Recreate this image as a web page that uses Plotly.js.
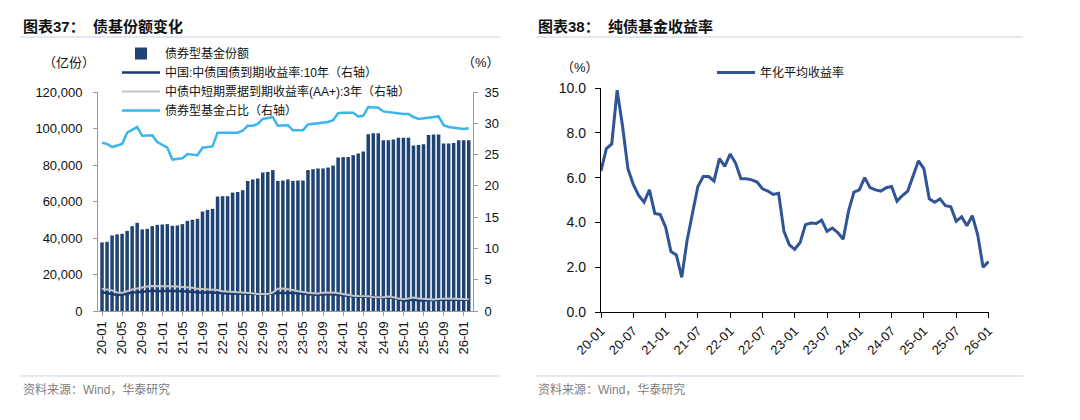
<!DOCTYPE html>
<html><head><meta charset="utf-8">
<script src="https://cdn.plot.ly/plotly-3.0.1.min.js"></script>
<style>html,body{margin:0;padding:0;background:#fff}#chart{width:1080px;height:420px}</style>
</head><body><div id="chart"></div>
<script>
// ---- categories (monthly, yy-mm) ----
const months = [
  "20-01","20-02","20-03","20-04","20-05","20-06","20-07","20-08","20-09","20-10","20-11","20-12",
  "21-01","21-02","21-03","21-04","21-05","21-06","21-07","21-08","21-09","21-10","21-11","21-12",
  "22-01","22-02","22-03","22-04","22-05","22-06","22-07","22-08","22-09","22-10","22-11","22-12",
  "23-01","23-02","23-03","23-04","23-05","23-06","23-07","23-08","23-09","23-10","23-11","23-12",
  "24-01","24-02","24-03","24-04","24-05","24-06","24-07","24-08","24-09","24-10","24-11","24-12",
  "25-01","25-02","25-03","25-04","25-05","25-06","25-07","25-08","25-09","25-10","25-11","25-12",
  "26-01","26-02"
];
// ---- chart 37 series ----
const bondFundShares = [ // 亿份
  37600,37900,41400,42000,42300,43900,46500,48300,44700,45000,
  46500,47200,47400,47600,46700,46900,47600,49400,50000,50500,
  54500,55400,56000,62700,62900,62900,64900,65200,66200,71300,
  72100,72600,75900,76200,77200,71300,71500,72100,71300,71500,
  71500,77200,77700,78100,78100,78600,79700,84100,84300,84400,
  85400,86300,87400,96900,97400,97400,93600,93600,94000,95000,
  95000,95000,90700,90900,91400,96500,96700,96700,91800,91800,
  92000,93600,93600,93600
];
const cgb10y = [ // %
  3.00,2.85,2.70,2.55,2.60,2.80,2.95,3.00,3.10,3.15,3.25,3.20,
  3.15,3.25,3.25,3.20,3.15,3.12,3.05,2.90,2.90,2.98,2.92,2.85,
  2.75,2.80,2.80,2.80,2.78,2.78,2.78,2.70,2.67,2.70,2.80,2.88,
  2.90,2.90,2.87,2.82,2.73,2.68,2.65,2.60,2.68,2.70,2.68,2.60,
  2.50,2.42,2.32,2.28,2.30,2.30,2.25,2.18,2.15,2.13,2.10,1.90,
  1.65,1.70,1.82,1.68,1.68,1.65,1.68,1.75,1.82,1.80,1.80,1.83,
  1.82,1.80
];
const mtnAAplus3y = [ // %
  3.55,3.40,3.30,2.95,2.90,3.15,3.45,3.60,3.80,3.90,4.00,4.00,
  3.95,3.95,3.95,3.90,3.85,3.80,3.70,3.55,3.50,3.55,3.45,3.35,
  3.15,3.10,3.10,3.05,2.95,2.92,2.85,2.72,2.68,2.72,2.95,3.55,
  3.60,3.50,3.35,3.15,3.00,2.90,2.85,2.80,2.92,2.95,2.95,2.85,
  2.70,2.55,2.45,2.40,2.40,2.35,2.25,2.20,2.20,2.30,2.20,1.98,
  1.88,2.00,2.15,1.98,1.92,1.88,1.85,1.90,1.97,1.98,1.95,1.92,
  1.90,1.88
];
const bondFundRatio = [ // %
  26.9,26.7,26.2,26.5,26.7,28.5,29.0,29.4,28.0,28.0,
  28.1,27.0,26.6,26.1,24.2,24.3,24.4,25.1,25.0,24.9,
  26.1,26.2,26.3,28.5,28.5,28.4,28.4,28.5,28.8,29.6,
  29.6,29.9,30.7,30.8,31.0,29.6,29.7,29.7,28.9,28.9,
  28.9,29.8,29.9,29.9,30.1,30.2,30.5,31.6,31.7,31.7,
  31.7,31.1,31.2,32.6,32.6,32.5,31.9,31.8,31.6,31.5,
  31.5,31.5,31.0,30.7,30.8,30.9,31.1,31.1,29.7,29.4,
  29.3,29.2,29.1,29.2
];
// ---- chart 38 series ----
const pureBondYield = [ // %
  6.3,7.3,7.5,9.9,8.3,6.4,5.7,5.2,4.9,5.45,
  4.4,4.35,3.8,2.7,2.55,1.55,3.2,4.4,5.6,6.05,
  6.05,5.85,6.85,6.5,7.05,6.65,5.95,5.95,5.9,5.8,
  5.5,5.4,5.25,5.3,3.6,3.0,2.8,3.1,3.9,3.97,
  3.95,4.1,3.6,3.75,3.55,3.25,4.5,5.35,5.45,6.0,
  5.55,5.45,5.4,5.55,5.6,4.95,5.2,5.4,6.05,6.75,
  6.4,5.05,4.9,5.05,4.75,4.7,4.05,4.25,3.85,4.3,
  3.45,2.0,2.25
];
// ---- tick labels ----
const leftTicks = ["20-01","20-05","20-09","21-01","21-05","21-09","22-01","22-05","22-09","23-01",
  "23-05","23-09","24-01","24-05","24-09","25-01","25-05","25-09","26-01"];
const rightTicks = ["20-01","20-07","21-01","21-07","22-01","22-07","23-01","23-07","24-01","24-07",
  "25-01","25-07","26-01"];
const yieldMonths = months.slice(0, pureBondYield.length);

const FONT = '"Liberation Sans", Arial, "Noto Sans CJK SC", sans-serif';
const W = 1080, H = 420;
const px = x => x / W, py = y => 1 - y / H;

const traces = [
  {type:'bar', name:'债券型基金份额', x:months, y:bondFundShares, xaxis:'x', yaxis:'y',
   marker:{color:'#1f4473', line:{width:0}}, legend:'legend'},
  {type:'scatter', mode:'lines', name:'中国:中债国债到期收益率:10年（右轴）', x:months, y:cgb10y,
   xaxis:'x', yaxis:'y2', line:{color:'#1b3a73', width:2.5}, legend:'legend'},
  {type:'scatter', mode:'lines', name:'中债中短期票据到期收益率(AA+):3年（右轴）', x:months, y:mtnAAplus3y,
   xaxis:'x', yaxis:'y2', line:{color:'#c4c4c4', width:2}, legend:'legend'},
  {type:'scatter', mode:'lines', name:'债券型基金占比（右轴）', x:months, y:bondFundRatio,
   xaxis:'x', yaxis:'y2', line:{color:'#3cb6ea', width:2.5}, legend:'legend'},
  {type:'scatter', mode:'lines', name:'年化平均收益率', x:yieldMonths, y:pureBondYield,
   xaxis:'x3', yaxis:'y3', line:{color:'#2f5597', width:3}, legend:'legend2'}
];

const tickFont = {family:FONT, size:13, color:'#111'};
const layout = {
  width:W, height:H, autosize:false,
  margin:{l:0, r:0, t:0, b:0},
  paper_bgcolor:'#fff', plot_bgcolor:'rgba(0,0,0,0)',
  font:{family:FONT, size:12, color:'#111'},
  bargap:0.3,
  showlegend:true,
  legend:{x:px(117), y:py(39), xanchor:'left', yanchor:'top', bgcolor:'rgba(0,0,0,0)',
    font:{family:FONT, size:12, color:'#111'}, tracegroupgap:0, traceorder:'normal', itemwidth:38},
  legend2:{x:px(712), y:py(58), xanchor:'left', yanchor:'top', bgcolor:'rgba(0,0,0,0)',
    font:{family:FONT, size:12, color:'#111'}, itemwidth:38},
  xaxis:{domain:[px(98), px(473)], anchor:'y', type:'category', range:[-0.8, 73.85],
    tickmode:'array', tickvals:leftTicks, ticktext:leftTicks, tickangle:-90,
    ticks:'outside', ticklen:4, tickcolor:'#999', showline:true, linecolor:'#999', linewidth:1,
    showgrid:false, zeroline:false, tickfont:tickFont},
  yaxis:{domain:[py(311), py(92)], anchor:'x', range:[0,120000], dtick:20000, tickformat:',',
    ticks:'outside', ticklen:4, tickcolor:'#999', showline:true, linecolor:'#999', linewidth:1,
    showgrid:false, zeroline:false, tickfont:tickFont, ticklabelstandoff:8},
  yaxis2:{overlaying:'y', side:'right', anchor:'x', range:[0,35], dtick:5,
    ticks:'outside', ticklen:4, tickcolor:'#999', showline:true, linecolor:'#999', linewidth:1,
    showgrid:false, zeroline:false, tickfont:tickFont, ticklabelstandoff:4},
  xaxis3:{domain:[px(601), px(989)], anchor:'y3', type:'category', range:[0, 72.1],
    tickmode:'array', tickvals:rightTicks, ticktext:rightTicks, tickangle:-45,
    ticks:'outside', ticklen:5, tickcolor:'#000', showline:true, linecolor:'#000', linewidth:1.2,
    showgrid:false, zeroline:false, tickfont:tickFont},
  yaxis3:{domain:[py(312), py(88)], anchor:'x3', range:[0,10], dtick:2, tickformat:'.1f',
    ticks:'outside', ticklen:5, tickcolor:'#000', showline:true, linecolor:'#000', linewidth:1.2,
    showgrid:false, zeroline:false, tickfont:{family:FONT, size:14, color:'#111'}, ticklabelstandoff:6},
  shapes:[
    {type:'line', xref:'paper', yref:'paper', x0:px(20), x1:px(500), y0:py(37), y1:py(37), line:{color:'#c7d0e2', width:1.2}},
    {type:'line', xref:'paper', yref:'paper', x0:px(536), x1:px(1023), y0:py(37), y1:py(37), line:{color:'#c7d0e2', width:1.2}},
    {type:'line', xref:'paper', yref:'paper', x0:px(20), x1:px(500), y0:py(376), y1:py(376), line:{color:'#c7d6e4', width:1}},
    {type:'line', xref:'paper', yref:'paper', x0:px(536), x1:px(1023), y0:py(376), y1:py(376), line:{color:'#c7d6e4', width:1}}
  ],
  annotations:[
    {xref:'paper', yref:'paper', x:px(21), y:py(26), xanchor:'left', yanchor:'middle', showarrow:false,
     text:'<b>图表37：  债基份额变化</b>', font:{family:FONT, size:15, color:'#111'}},
    {xref:'paper', yref:'paper', x:px(536), y:py(26), xanchor:'left', yanchor:'middle', showarrow:false,
     text:'<b>图表38：  纯债基金收益率</b>', font:{family:FONT, size:15, color:'#111'}},
    {xref:'paper', yref:'paper', x:px(69), y:py(62), xanchor:'center', yanchor:'middle', showarrow:false,
     text:'（亿份）', font:{family:FONT, size:13, color:'#111'}},
    {xref:'paper', yref:'paper', x:px(481), y:py(62), xanchor:'center', yanchor:'middle', showarrow:false,
     text:'（%）', font:{family:FONT, size:13, color:'#111'}},
    {xref:'paper', yref:'paper', x:px(580), y:py(68), xanchor:'center', yanchor:'middle', showarrow:false,
     text:'（%）', font:{family:FONT, size:13, color:'#111'}},
    {xref:'paper', yref:'paper', x:px(21), y:py(389), xanchor:'left', yanchor:'middle', showarrow:false,
     text:'资料来源：Wind，华泰研究', font:{family:FONT, size:12, color:'#808080'}},
    {xref:'paper', yref:'paper', x:px(536), y:py(389), xanchor:'left', yanchor:'middle', showarrow:false,
     text:'资料来源：Wind，华泰研究', font:{family:FONT, size:12, color:'#808080'}}
  ]
};

Plotly.newPlot('chart', traces, layout, {staticPlot:true, displayModeBar:false});
</script>
</body></html>
